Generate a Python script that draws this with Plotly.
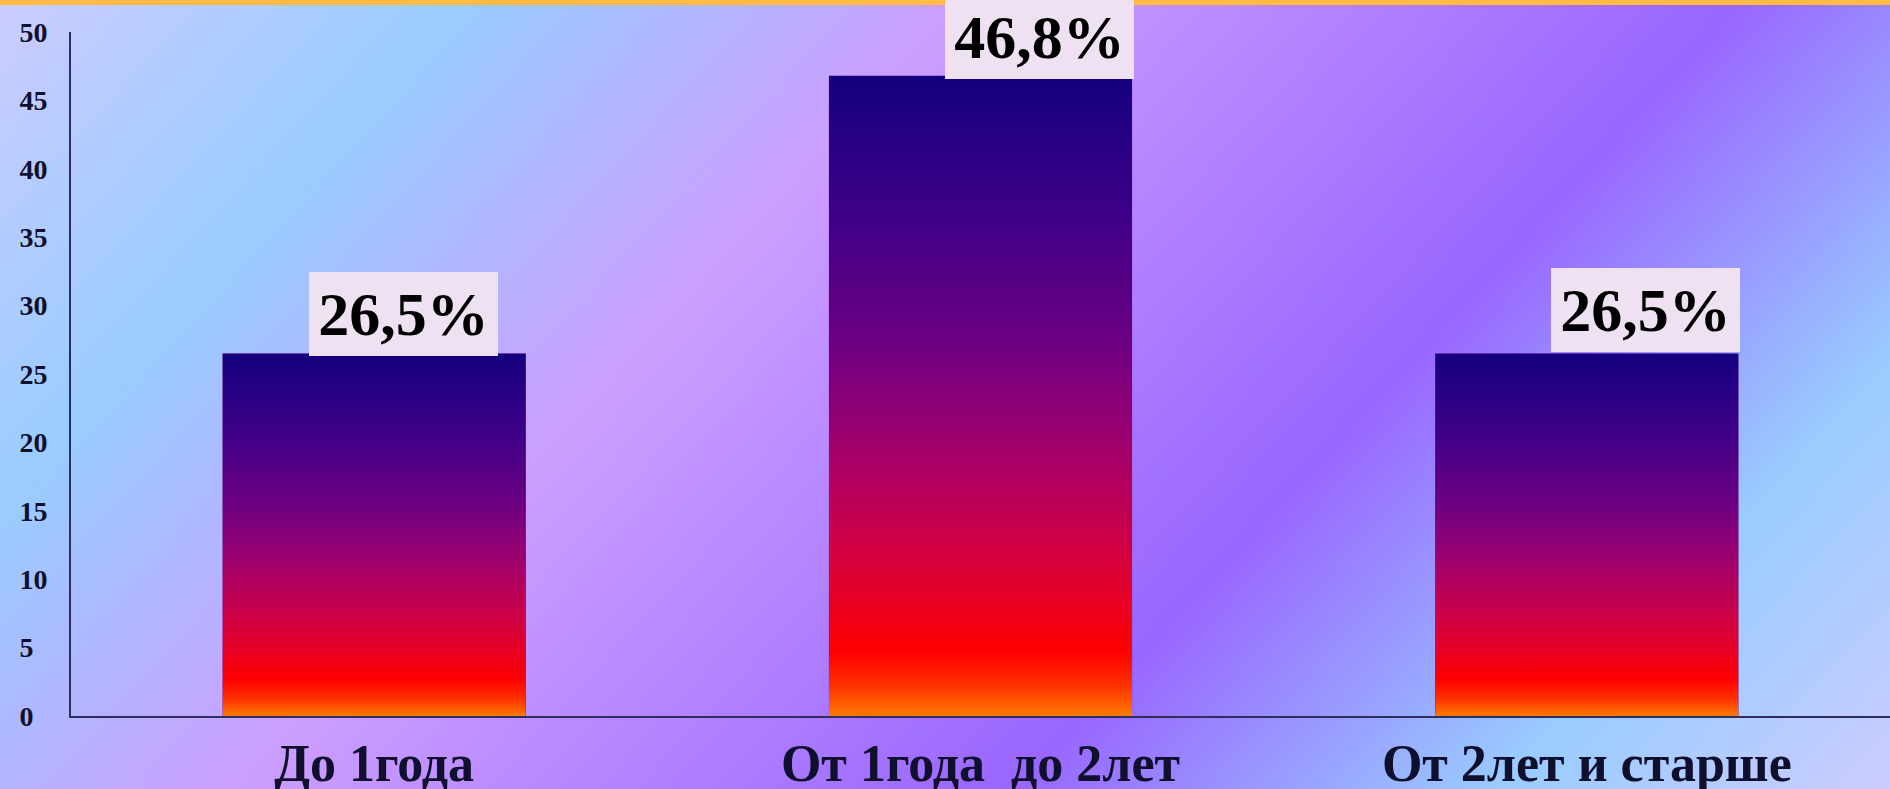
import base64
import plotly.graph_objects as go

# ---- data -------------------------------------------------------------
categories = ["До 1года", "От 1года  до 2лет", "От 2лет и старше"]
shares = [26.5, 46.8, 26.5]
y_ticks = [0, 5, 10, 15, 20, 25, 30, 35, 40, 45, 50]

# ---- styling ----------------------------------------------------------
W, H = 1890, 789
BAR_W = 0.5
SERIF = "Liberation Serif, Times New Roman, serif"
AXIS_COLOR = "#2E2E5E"
LABEL_BOX = "#EEE2F2"
# horizontal / vertical nudges of the value boxes (pixels)
label_dx = [29, 59, 59]
label_dy = [-3, -3, 1]


def svg_uri(svg):
    return "data:image/svg+xml;base64," + base64.b64encode(svg.encode("utf-8")).decode("ascii")


# diagonal pastel backdrop with a thin orange strip along the top
backdrop = f"""<svg xmlns="http://www.w3.org/2000/svg" width="{W}" height="{H}" viewBox="0 0 {W} {H}" preserveAspectRatio="none">
<defs>
<linearGradient id="bg" gradientUnits="userSpaceOnUse" x1="0" y1="0" x2="1417" y2="1303">
<stop offset="0" stop-color="#CCCCFF"/>
<stop offset="0.18" stop-color="#99CCFF"/>
<stop offset="0.37" stop-color="#CC9EFF"/>
<stop offset="0.665" stop-color="#9966FF"/>
<stop offset="0.85" stop-color="#99CCFF"/>
<stop offset="1" stop-color="#CCCCFF"/>
</linearGradient>
</defs>
<rect x="0" y="0" width="{W}" height="{H}" fill="url(#bg)"/>
<rect x="0" y="0" width="{W}" height="5" fill="#FFBB44"/>
</svg>"""

# vertical fill used for every bar: indigo at the top, red/orange at the base
bar_fill = """<svg xmlns="http://www.w3.org/2000/svg" width="100" height="100" viewBox="0 0 100 100" preserveAspectRatio="none">
<defs>
<linearGradient id="g" x1="0" y1="0" x2="0" y2="1">
<stop offset="0" stop-color="#14007F"/>
<stop offset="0.22" stop-color="#3E0088"/>
<stop offset="0.42" stop-color="#6E0082"/>
<stop offset="0.55" stop-color="#980072"/>
<stop offset="0.70" stop-color="#C6004E"/>
<stop offset="0.80" stop-color="#E2002C"/>
<stop offset="0.90" stop-color="#FF0000"/>
<stop offset="0.955" stop-color="#FF3400"/>
<stop offset="1" stop-color="#FF7A00"/>
</linearGradient>
</defs>
<rect x="0" y="0" width="100" height="100" fill="url(#g)"/>
</svg>"""

xs = list(range(len(categories)))

fig = go.Figure(
    go.Bar(
        x=xs,
        y=shares,
        width=BAR_W,
        marker=dict(color="#6E0082", line=dict(width=0)),
        hovertext=categories,
        hoverinfo="text+y",
    )
)

images = [
    dict(
        source=svg_uri(backdrop),
        xref="paper", yref="paper",
        x=0, y=1, sizex=1, sizey=1,
        xanchor="left", yanchor="top",
        sizing="stretch", layer="below",
    )
]
for x, v in zip(xs, shares):
    images.append(
        dict(
            source=svg_uri(bar_fill),
            xref="x", yref="y",
            x=x - BAR_W / 2, y=v, sizex=BAR_W, sizey=v,
            xanchor="left", yanchor="top",
            sizing="stretch", layer="above",
        )
    )

annotations = []
for x, v, dx, dy in zip(xs, shares, label_dx, label_dy):
    annotations.append(
        dict(
            x=x, y=v, xref="x", yref="y",
            text=f"{v:.1f}".replace(".", ",") + "%",
            showarrow=False,
            xanchor="center", yanchor="bottom",
            xshift=dx, yshift=dy,
            width=189, height=84,
            align="center", valign="middle",
            bgcolor=LABEL_BOX, borderpad=0, borderwidth=0,
            font=dict(family=SERIF, size=62, color="#000000", weight="bold"),
        )
    )

y_text = [f"{t}" if t >= 10 else f"{t}\u2007" for t in y_ticks]

fig.update_layout(
    width=W, height=H,
    margin=dict(l=0, r=0, t=0, b=0),
    paper_bgcolor="#C8B8FF",
    plot_bgcolor="rgba(0,0,0,0)",
    showlegend=False,
    images=images,
    annotations=annotations,
    xaxis=dict(
        domain=[71 / W, 1],
        range=[-0.5, len(categories) - 0.5],
        tickvals=xs,
        ticktext=categories,
        showgrid=False, zeroline=False,
        showline=True, linecolor=AXIS_COLOR, linewidth=2,
        ticks="",
        ticklabelstandoff=1,
        tickfont=dict(family=SERIF, size=52, color="#10102E", weight="bold"),
        automargin=False,
        fixedrange=True,
    ),
    yaxis=dict(
        domain=[(H - 716) / H, (H - 32) / H],
        range=[0, 50],
        tickvals=y_ticks,
        ticktext=y_text,
        showgrid=False, zeroline=False,
        showline=True, linecolor=AXIS_COLOR, linewidth=2,
        ticks="",
        ticklabelstandoff=16,
        tickfont=dict(family=SERIF, size=28, color="#10102E", weight="bold"),
        automargin=False,
        fixedrange=True,
    ),
)

fig.write_html("out.html")
